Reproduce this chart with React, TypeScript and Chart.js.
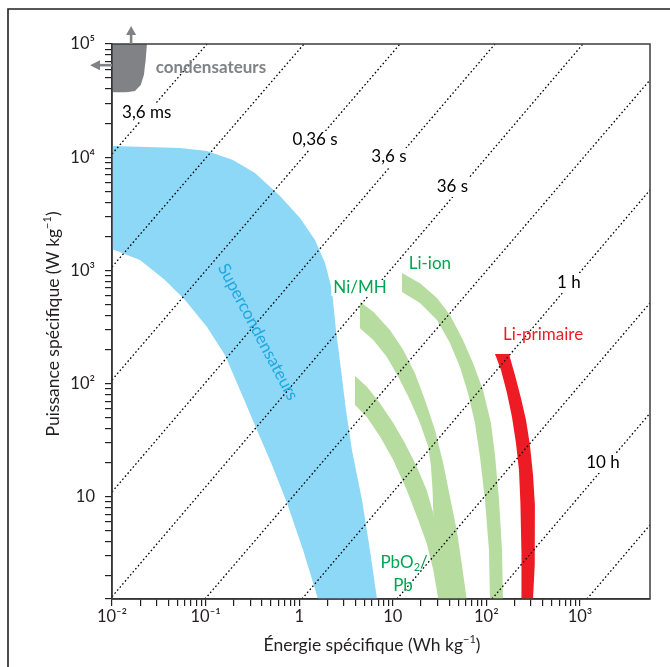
import React, { useEffect, useRef } from "react";
import { Chart, registerables } from "chart.js";

Chart.register(...registerables);

const FONT = "Lato, 'Open Sans', 'DejaVu Sans', sans-serif";
const INK = "#231f20";
const FRAME = "#3c3c3e";
const GREY = "#808285";
const BLUE = "#8dd7f7";
const BLUE_TEXT = "#1fa9e1";
const GREEN = "#b7dc9f";
const GREEN_TEXT = "#00a651";
const RED = "#ed1c24";

// Axis ranges: specific energy (Wh/kg) and specific power (W/kg)
const energyMin = 0.01;
const energyMax = 5600;
const powerMin = 1.25;
const powerMax = 100000;

const xMajorValues = [0.01, 0.1, 1, 10, 100, 1000];
const xMajorLabels = ["10⁻²", "10⁻¹", "1", "10", "10²", "10³"];
const yMajorValues = [10, 100, 1000, 10000, 100000];
const yMajorLabels = ["10", "10²", "10³", "10⁴", "10⁵"];

// Regions: [energy, power] along the outer (right) and inner (left) edges
const condensateursOuter = [[0.0236, 100000], [0.0229, 72200], [0.0219, 53200], [0.0203, 43400], [0.0176, 38400], [0.0138, 37300]];
const condensateursInner = [[0.01, 100000], [0.01, 37300]];

const superOuter = [[0.01, 12560], [0.0533, 12050], [0.1035, 11350], [0.196, 9450], [0.337, 7250], [0.624, 4540], [1.02, 2900], [1.475, 1860], [1.89, 1160], [2.24, 671], [2.47, 297], [2.8, 132], [3.16, 58.5], [3.66, 25.9], [4.69, 9.37], [5.7, 3.39], [6.78, 1.25]];
const superInner = [[0.01, 12560], [0.01, 1545], [0.0199, 1236], [0.0368, 822], [0.0603, 548], [0.1035, 316], [0.161, 179], [0.233, 87.7], [0.354, 38.9], [0.512, 19.1], [0.741, 8.81], [1.1, 3.39], [1.59, 1.25]];

const pbOuter = [[3.95, 116.7], [5.26, 94.0], [7.3, 67.0], [10.12, 44.8], [13.5, 29.7], [18.0, 18.5], [23.01, 11.5], [27.1, 7.14], [31.9, 3.75], [37.0, 1.25]];
const pbInner = [[3.95, 116.7], [3.95, 64.7], [5.26, 51.0], [7.3, 34.0], [10.12, 21.1], [14.09, 11.5], [18.72, 6.24], [23.01, 3.88], [27.1, 2.25], [30.6, 1.25]];

const niMhOuter = [[4.46, 529], [6.19, 432], [9.33, 297], [12.94, 198], [17.26, 123.3], [22.08, 71.6], [28.25, 38.9], [34.6, 19.8], [40.8, 10.0], [48.2, 5.09], [54.5, 2.58], [61.6, 1.25]];
const niMhInner = [[4.46, 529], [4.46, 308], [6.19, 243], [8.61, 173], [11.45, 115.1], [15.27, 71.6], [19.53, 44.8], [23.94, 27.7], [25.6, 18.5], [26.6, 11.5], [27.1, 7.14], [30.4, 3.39], [33.6, 1.25]];

const liIonOuter = [[12.54, 948], [19.53, 769], [29.65, 570], [40.8, 404], [56.2, 243], [71.9, 152], [92.0, 87.7], [111.9, 44.9], [123.6, 23.4], [136.5, 9.37], [146.8, 3.39], [150.4, 1.25]];
const liIonInner = [[12.54, 948], [12.54, 644], [19.53, 515], [29.65, 365], [40.8, 228.5], [52.2, 140.3], [63.6, 82.6], [75.5, 44.9], [85.5, 22.5], [96.6, 9.37], [106.6, 3.39], [109.2, 1.25]];

const liPrimOuter = [[174.4, 182.4], [202, 119.1], [234, 74.6], [265, 47.6], [292, 28.7], [315, 15.6], [330, 8.47], [330, 4.6], [327, 2.5], [315, 1.25]];
const liPrimInner = [[123.6, 182.4], [143.2, 132], [166, 82.6], [187.7, 50.7], [207, 29.9], [223, 17.3], [231, 8.81], [237, 3.19], [237, 1.25]];

// Constant discharge-time lines (start and end points)
const isoLineStarts = [[0.01, 10670], [0.01, 1072], [0.01, 107.6], [0.01, 11.03], [0.01, 1.31], [0.0985, 1.25], [1.071, 1.25], [11.09, 1.25], [114.8, 1.25], [1188, 1.25]];
const isoLineEnds = [[0.1035, 100000], [1.126, 100000], [11.94, 100000], [123.6, 100000], [1077, 100000], [5600, 48100], [5600, 5130], [5600, 515], [5600, 54.7], [5600, 5.64]];

const timeLabels = ["3,6 ms", "0,36 s", "3,6 s", "36 s", "1 h", "10 h"];
const timeLabelAnchors = [[0.0235, 25060], [1.476, 14190], [9.1, 10040], [43.4, 5460], [762, 789], [1762, 19.9]];

const seriesNames = ["Ni/MH", "Li-ion", "Li-primaire"];
const seriesNameAnchors = [[4.46, 699], [24.9, 1161], [403, 274]];
const seriesNameColors = [GREEN_TEXT, GREEN_TEXT, RED];

const superName = "Supercondensateurs";
const superNameAnchor = [0.363, 286];
const condName = "condensateurs";
const condNameAnchor = [0.114, 61400];
const pbNameAnchors = [[13.2, 2.65], [12.85, 1.66]];
const arrowAnchor = [0.016, 65000];

const xTitle = [{ t: "Énergie spécifique (Wh kg" }, { t: "−1", sup: true }, { t: ")" }];
const yTitle = [{ t: "Puissance spécifique (W kg" }, { t: "−1", sup: true }, { t: ")" }];

type Part = { t: string; sup?: boolean; sub?: boolean };

const LABEL_SIZE = 17;
const TITLE_SIZE = 17.5;

function buildLogTicks(min: number, max: number) {
  const out: number[] = [];
  for (let e = Math.floor(Math.log10(min)); e <= Math.ceil(Math.log10(max)); e++) {
    for (let m = 1; m <= 9; m++) {
      const v = m * Math.pow(10, e);
      if (v >= min * (1 - 1e-9) && v <= max * (1 + 1e-9)) out.push(v);
    }
  }
  return out;
}

function majorLabel(v: number, values: number[], labels: string[]) {
  for (let i = 0; i < values.length; i++) {
    if (Math.abs(v - values[i]) <= values[i] * 1e-6) return labels[i];
  }
  return "";
}

function drawRich(ctx: CanvasRenderingContext2D, parts: Part[], cx: number, cy: number, size: number, color: string, weight = "normal") {
  const small = Math.round(size * 0.62);
  const widths = parts.map((p) => {
    ctx.font = `${weight} ${p.sup || p.sub ? small : size}px ${FONT}`;
    return ctx.measureText(p.t).width;
  });
  const total = widths.reduce((a, b) => a + b, 0);
  let xx = cx - total / 2;
  ctx.textAlign = "left";
  ctx.textBaseline = "middle";
  ctx.fillStyle = color;
  parts.forEach((p, i) => {
    ctx.font = `${weight} ${p.sup || p.sub ? small : size}px ${FONT}`;
    const dy = p.sup ? -size * 0.34 : p.sub ? size * 0.3 : 0;
    ctx.fillText(p.t, xx, cy + dy);
    xx += widths[i];
  });
  return total;
}

const decorPlugin = {
  id: "decor",
  afterDatasetsDraw(chart: any) {
    const { ctx } = chart;
    const xs = chart.scales.x;
    const ys = chart.scales.y;
    const px = (e: number) => xs.getPixelForValue(e);
    const py = (p: number) => ys.getPixelForValue(p);
    ctx.save();
    ctx.textAlign = "center";
    ctx.textBaseline = "middle";
    ctx.font = `${LABEL_SIZE}px ${FONT}`;
    timeLabels.forEach((t, i) => {
      const cx = px(timeLabelAnchors[i][0]);
      const cy = py(timeLabelAnchors[i][1]);
      const w = ctx.measureText(t).width;
      ctx.fillStyle = "#ffffff";
      ctx.fillRect(cx - w / 2 - 2, cy - 9, w + 4, 19);
      ctx.fillStyle = "#000000";
      ctx.fillText(t, cx, cy);
    });
    seriesNames.forEach((t, i) => {
      const cx = px(seriesNameAnchors[i][0]);
      const cy = py(seriesNameAnchors[i][1]);
      const w = ctx.measureText(t).width;
      if (i === 0) {
        ctx.fillStyle = "#ffffff";
        ctx.fillRect(cx - w / 2 - 2, cy - 8, w + 4, 16);
      }
      ctx.fillStyle = seriesNameColors[i];
      ctx.fillText(t, cx, cy);
    });
    // PbO2 / Pb
    drawRich(ctx, [{ t: "PbO" }, { t: "2", sub: true }, { t: "/" }], px(pbNameAnchors[0][0]), py(pbNameAnchors[0][1]), LABEL_SIZE, GREEN_TEXT);
    drawRich(ctx, [{ t: "Pb" }], px(pbNameAnchors[1][0]), py(pbNameAnchors[1][1]), LABEL_SIZE, GREEN_TEXT);
    // Supercondensateurs (rotated)
    ctx.save();
    ctx.translate(px(superNameAnchor[0]), py(superNameAnchor[1]));
    ctx.rotate((62 * Math.PI) / 180);
    ctx.font = `${LABEL_SIZE}px ${FONT}`;
    ctx.textAlign = "center";
    ctx.textBaseline = "middle";
    ctx.fillStyle = BLUE_TEXT;
    ctx.fillText(superName, 0, 0);
    ctx.restore();
    // condensateurs
    ctx.font = `bold 17px ${FONT}`;
    ctx.textAlign = "center";
    ctx.textBaseline = "middle";
    ctx.fillStyle = GREY;
    ctx.fillText(condName, px(condNameAnchor[0]), py(condNameAnchor[1]));
    ctx.restore();
  },
  afterDraw(chart: any) {
    const { ctx, chartArea } = chart;
    const { left, top, right, bottom } = chartArea;
    const xs = chart.scales.x;
    const ys = chart.scales.y;
    ctx.save();
    // outer frame
    ctx.strokeStyle = INK;
    ctx.lineWidth = 1.6;
    ctx.beginPath();
    ctx.moveTo(8, 670);
    ctx.lineTo(8, 9);
    ctx.lineTo(672, 9);
    ctx.stroke();
    // plot frame
    ctx.strokeStyle = FRAME;
    ctx.lineWidth = 1.5;
    ctx.strokeRect(left, top, right - left, bottom - top);
    // arrows of the capacitor region
    ctx.fillStyle = GREY;
    const ax = xs.getPixelForValue(arrowAnchor[0]);
    ctx.fillRect(ax - 1.3, top - 10, 2.6, 10);
    ctx.beginPath();
    ctx.moveTo(ax, top - 18);
    ctx.lineTo(ax - 5, top - 9);
    ctx.lineTo(ax + 5, top - 9);
    ctx.closePath();
    ctx.fill();
    const ay = ys.getPixelForValue(arrowAnchor[1]);
    ctx.fillRect(left - 13, ay - 1.3, 13, 2.6);
    ctx.beginPath();
    ctx.moveTo(left - 22, ay);
    ctx.lineTo(left - 12, ay - 5);
    ctx.lineTo(left - 12, ay + 5);
    ctx.closePath();
    ctx.fill();
    // axis titles
    drawRich(ctx, xTitle, left + 260, bottom + 46, TITLE_SIZE, INK);
    ctx.translate(53, top + 280);
    ctx.rotate(-Math.PI / 2);
    drawRich(ctx, yTitle, 0, 0, TITLE_SIZE, INK);
    ctx.restore();
  },
};

export default function App() {
  const canvasRef = useRef<HTMLCanvasElement | null>(null);

  useEffect(() => {
    const canvas = canvasRef.current;
    if (!canvas) return;
    const datasets: any[] = [];
    const toXY = (pts: number[][]) => pts.map(([x, y]) => ({ x, y }));
    const addBand = (outer: number[][], inner: number[][], color: string) => {
      datasets.push({ data: toXY(outer), fill: "+1", backgroundColor: color, borderColor: "rgba(0,0,0,0)", borderWidth: 0, pointRadius: 0, order: 2 });
      datasets.push({ data: toXY(inner), fill: false, backgroundColor: color, borderColor: "rgba(0,0,0,0)", borderWidth: 0, pointRadius: 0, order: 2 });
    };
    addBand(condensateursOuter, condensateursInner, GREY);
    addBand(superOuter, superInner, BLUE);
    addBand(pbOuter, pbInner, GREEN);
    addBand(niMhOuter, niMhInner, GREEN);
    addBand(liIonOuter, liIonInner, GREEN);
    addBand(liPrimOuter, liPrimInner, RED);
    isoLineStarts.forEach((s, i) => {
      datasets.push({
        data: toXY([s, isoLineEnds[i]]),
        borderColor: "#000000",
        borderWidth: 1.3,
        borderDash: [1.6, 2.4],
        pointRadius: 0,
        fill: false,
        order: 0,
      });
    });

    const chart = new Chart(canvas, {
      type: "line",
      data: { datasets },
      options: {
        indexAxis: "y",
        responsive: false,
        maintainAspectRatio: false,
        animation: false,
        devicePixelRatio: 1,
        events: [],
        layout: { padding: { top: 44, right: 20, left: 0, bottom: 0 } },
        plugins: { legend: { display: false }, tooltip: { enabled: false } },
        elements: { line: { tension: 0 }, point: { radius: 0 } },
        scales: {
          x: {
            type: "logarithmic",
            position: "bottom",
            min: energyMin,
            max: energyMax,
            afterBuildTicks: (scale: any) => {
              scale.ticks = buildLogTicks(energyMin, 1000).map((v) => ({ value: v }));
            },
            afterFit: (scale: any) => {
              scale.height = 68;
            },
            grid: { drawOnChartArea: false, drawTicks: true, tickLength: 7, color: INK, lineWidth: 1.2 },
            border: { display: true, color: INK, width: 1.5 },
            ticks: {
              autoSkip: false,
              maxRotation: 0,
              minRotation: 0,
              padding: 1,
              color: INK,
              font: { family: FONT, size: 16.5 },
              callback: (v: any) => majorLabel(Number(v), xMajorValues, xMajorLabels),
            },
          },
          y: {
            type: "logarithmic",
            position: "left",
            min: powerMin,
            max: powerMax,
            afterBuildTicks: (scale: any) => {
              scale.ticks = [powerMin, ...buildLogTicks(2, powerMax)].map((v) => ({ value: v }));
            },
            afterFit: (scale: any) => {
              scale.width = 112;
            },
            grid: { drawOnChartArea: false, drawTicks: true, tickLength: 7, color: INK, lineWidth: 1.2 },
            border: { display: true, color: INK, width: 1.5 },
            ticks: {
              autoSkip: false,
              padding: 10,
              color: INK,
              font: { family: FONT, size: 16.5 },
              callback: (v: any) => majorLabel(Number(v), yMajorValues, yMajorLabels),
            },
          },
        },
      } as any,
      plugins: [decorPlugin],
    });
    return () => chart.destroy();
  }, []);

  return (
    <div style={{ position: "fixed", left: 0, top: 0, width: 670, height: 667, background: "#ffffff" }}>
      <canvas ref={canvasRef} width={670} height={667} style={{ display: "block", width: 670, height: 667 }} />
    </div>
  );
}
